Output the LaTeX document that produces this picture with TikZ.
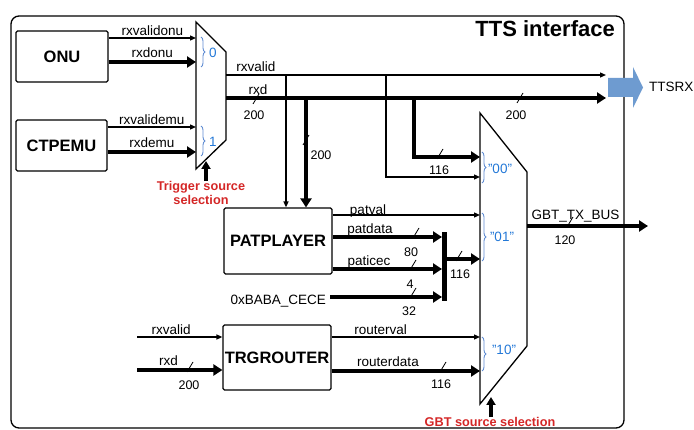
\documentclass[tikz,border=0pt]{standalone}
\usepackage{fontspec}
\setmainfont{Liberation Sans}
\usetikzlibrary{arrows.meta,decorations.pathreplacing}

\definecolor{selred}{RGB}{212,38,38}
\definecolor{lblblue}{RGB}{35,120,215}
\definecolor{brcblue}{RGB}{95,140,210}
\definecolor{ttsblue}{RGB}{110,155,208}

\tikzset{
  blk/.style={draw,line width=1.2pt,rounded corners=1.5pt,inner sep=0pt,
    font=\bfseries\fontsize{16.5}{19}\selectfont},
  mux/.style={line width=1.3pt,line join=miter},
  sig/.style={line width=1.3pt,-{Triangle[length=6pt,width=5pt]}},
  bus/.style={line width=4pt,-{Triangle[length=9pt,width=11pt]}},
  selarr/.style={line width=4pt,-{Triangle[length=8pt,width=9pt]}},
  lbl/.style={font=\fontsize{13.5}{15}\selectfont,inner sep=0pt},
  num/.style={font=\fontsize{12.5}{14}\selectfont,inner sep=0pt},
  blbl/.style={font=\fontsize{13.5}{15}\selectfont,text=lblblue,inner sep=0pt},
  brc/.style={decorate,decoration={brace,amplitude=4pt},draw=brcblue,line width=0.9pt},
  sel/.style={font=\bfseries\fontsize{12.7}{14}\selectfont,text=selred,align=center,inner sep=0pt}
}

\begin{document}
\begin{tikzpicture}[x=1pt,y=-1pt]
  \useasboundingbox (0,0) rectangle (694,430);
  \draw[line width=1.3pt,rounded corners=8pt] (11,16) rectangle (624,428);
  \node[anchor=east,inner sep=0pt,font=\bfseries\fontsize{22}{24}\selectfont] (title) at (615,29) {TTS interface};

  \node[blk,minimum width=92pt,minimum height=51pt] (onu) at (62,56.5) {ONU};
  \node[blk,minimum width=91pt,minimum height=51pt] (emu) at (61.5,145.5) {CTPEMU};
  \node[blk,minimum width=108pt,minimum height=66pt] (pat) at (278,241) {PATPLAYER};
  \node[blk,minimum width=108pt,minimum height=65pt] (trg) at (277,357.5) {TRGROUTER};

  % trigger source mux
  \draw[mux] (196,22) -- (226,52) -- (226,140) -- (196,169) -- cycle;
  \coordinate (m1a) at (196,38);
  \coordinate (m1b) at (196,62);
  \coordinate (m1c) at (196,127);
  \coordinate (m1d) at (196,152);
  \coordinate (m1v) at (226,75);
  \coordinate (m1x) at (226,98);

  \draw[sig] (onu.east |- m1a) -- node[lbl,above=2pt] {rxvalidonu} (m1a);
  \draw[bus] (onu.east |- m1b) -- node[lbl,above=2pt] {rxdonu} (m1b);
  \draw[sig] (emu.east |- m1c) -- node[lbl,above=2pt] {rxvalidemu} (m1c);
  \draw[bus] (emu.east |- m1d) -- node[lbl,above=2pt] {rxdemu} (m1d);

  \draw[brc] (201,37) -- (201,67);
  \draw[brc] (201,126) -- (201,156);
  \node[blbl] at (213,53) {0};
  \node[blbl] at (213,142) {1};

  \coordinate (s1) at (206,161);
  \node[sel] (tsel) at (201,193) {Trigger source\\selection};
  \draw[selarr] (tsel.north -| s1) -- (s1);

  % to TTSRX
  \coordinate (tv) at (606,75);
  \coordinate (tx) at (606,98);
  \draw[sig] (m1v) -- (tv);
  \draw[bus] (m1x) -- (tx);
  \node[lbl] at (256,67) {rxvalid};
  \node[lbl] at (258,90) {rxd};
  \fill[ttsblue] (608,78) -- (633,78) -- (633,67) -- (643,87.5) -- (633,108) -- (633,97) -- (608,97) -- cycle;
  \node[lbl,anchor=west] (ttsrx) at (649,87) {TTSRX};

  % GBT source mux
  \draw[mux] (480,113) -- (527,172) -- (527,346) -- (480,404) -- cycle;
  \coordinate (m2a) at (480,157);
  \coordinate (m2b) at (480,177);
  \coordinate (m2c) at (480,215);
  \coordinate (m2d) at (480,259);
  \coordinate (m2e) at (480,337);
  \coordinate (m2f) at (480,371);
  \coordinate (m2o) at (527,226);
  \coordinate (gout) at (648,226);

  \coordinate (j1) at (286,75);
  \coordinate (j2) at (386,75);
  \coordinate (j3) at (306,98);
  \coordinate (j4) at (414,98);
  \draw[sig] (j1) -- (j1 |- pat.north);
  \draw[bus] (j3) -- (j3 |- pat.north);
  \draw[sig] (j2) |- (m2b);
  \draw[bus] (j4) |- (m2a);

  \node[fill,inner sep=0pt,minimum width=5pt,minimum height=69pt] (bar) at (444,266.5) {};
  \node[lbl,anchor=east] (cst) at (326,301) {0xBABA\_CECE};
  \coordinate (p1) at (442,237);
  \coordinate (p2) at (442,269);
  \coordinate (p3) at (442,297);
  \draw[sig] (pat.east |- m2c) -- (m2c);
  \draw[bus] (pat.east |- p1) -- (p1);
  \draw[bus] (pat.east |- p2) -- (p2);
  \draw[bus] ([xshift=4pt]cst.east |- p3) -- (p3);
  \draw[bus] (bar.east |- m2d) -- (m2d);
  \node[lbl] at (368,211) {patval};
  \node[lbl] at (370,230) {patdata};
  \node[lbl] at (369,262) {paticec};

  \coordinate (r1) at (137,337);
  \coordinate (r2) at (137,370);
  \draw[sig] (r1) -- node[lbl,above=2pt,pos=0.4] {rxvalid} (r1 -| trg.west);
  \draw[bus] (r2) -- node[lbl,above=2pt,pos=0.37] {rxd} (r2 -| trg.west);
  \draw[sig] (trg.east |- m2e) -- node[lbl,above=2pt,pos=0.33] {routerval} (m2e);
  \draw[bus] (trg.east |- m2f) -- node[lbl,above=2pt,pos=0.38] {routerdata} (m2f);

  \draw[bus] (m2o) -- node[lbl,above=2pt,pos=0.4] {GBT\_TX\_BUS} (gout);

  \draw[brc] (482,152) -- (482,183);
  \draw[brc] (482,213) -- (482,261);
  \draw[brc] (482,337) -- (482,371);
  \node[blbl] at (500,169) {"00"};
  \node[blbl] at (502,237) {"01"};
  \node[blbl] at (504,350) {"10"};

  \coordinate (s2) at (491,397);
  \node[sel] (gsel) at (490,422) {GBT source selection};
  \draw[selarr] (gsel.north -| s2) -- (s2);

  % bus widths
  \foreach \x/\y in {256/99,306/140,520/98,440/154,416/233,413/265,413/293,459/256,190/367,443/367,570/222}
    \draw[line width=0.8pt] (\x-3,\y+5) -- (\x+3,\y-5);
  \node[num] at (254,115) {200};
  \node[num] at (321,155) {200};
  \node[num] at (516,115) {200};
  \node[num] at (439,170) {116};
  \node[num] at (411,252) {80};
  \node[num] at (410,284) {4};
  \node[num] at (409,311) {32};
  \node[num] at (460,274) {116};
  \node[num] at (189,385) {200};
  \node[num] at (441,384) {116};
  \node[num] at (565,240) {120};
\end{tikzpicture}
\end{document}
